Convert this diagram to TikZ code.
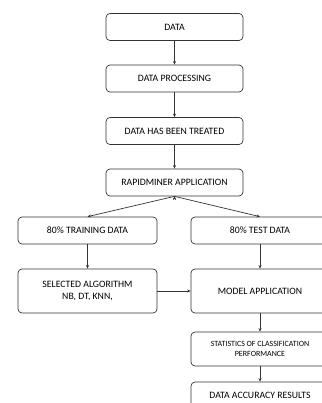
\documentclass[tikz,border=0pt]{standalone}
\usepackage{fontspec}
\setmainfont{Carlito}
\usetikzlibrary{arrows.meta}
\begin{document}
\begin{tikzpicture}[x=1bp,y=-1bp,
    stepbox/.style={shape=rectangle,rounded corners=4bp,draw=black!80,line width=0.7bp,
        minimum width=137bp,minimum height=27bp,align=center,font=\fontsize{9.8}{12.5}\selectfont,inner sep=1bp},
    >={Stealth[length=3.5bp,width=3bp]}]
            \useasboundingbox (0,0) rectangle (322,403);
            \node[stepbox] (D) at (174.5, 27) {DATA};
            \node[stepbox] (P) at (174.5, 78.5) {DATA PROCESSING};
            \node[stepbox] (T) at (174.5, 131) {DATA HAS BEEN TREATED};
            \node[stepbox] (R) at (174.5, 182.5) {RAPIDMINER APPLICATION};
            \node[stepbox,minimum width=139bp] (TR) at (87.5, 230.5) {80\% TRAINING DATA};
            \node[stepbox,minimum width=138bp] (TE) at (260, 230.5) {80\% TEST DATA};
            \node[stepbox,minimum width=139bp,minimum height=44bp] (A) at (87.5, 291) {SELECTED ALGORITHM\\NB, DT, KNN,};
            \node[stepbox,minimum width=138bp,minimum height=44bp] (M) at (260, 291) {MODEL APPLICATION};
            \node[stepbox,minimum width=138bp,minimum height=34bp,font=\fontsize{8}{10.5}\selectfont] (S) at (260, 349) {STATISTICS OF CLASSIFICATION\\PERFORMANCE};
            \node[stepbox,minimum width=138bp] (C) at (260, 395.5) {DATA ACCURACY RESULTS};

            \path [->,draw=black!80,line width=0.7bp] (D) edge (P);
            \path [->,draw=black!80,line width=0.7bp] (P) edge (T);
            \path [->,draw=black!80,line width=0.7bp] (T) edge (R);
            \path [->,draw=black!80,line width=0.7bp] (R.south) edge (TR.north);
            \path [->,draw=black!80,line width=0.7bp] (R.south) edge (TE.north);
            \path [->,draw=black!80,line width=0.7bp] (TR) edge (A);
            \path [->,draw=black!80,line width=0.7bp] (TE) edge (M);
            \path [->,draw=black!80,line width=0.7bp] (A) edge (M);
            \path [->,draw=black!80,line width=0.7bp] (M) edge (S);
            \path [->,draw=black!80,line width=0.7bp] (S) edge (C);
        \end{tikzpicture}
\end{document}
